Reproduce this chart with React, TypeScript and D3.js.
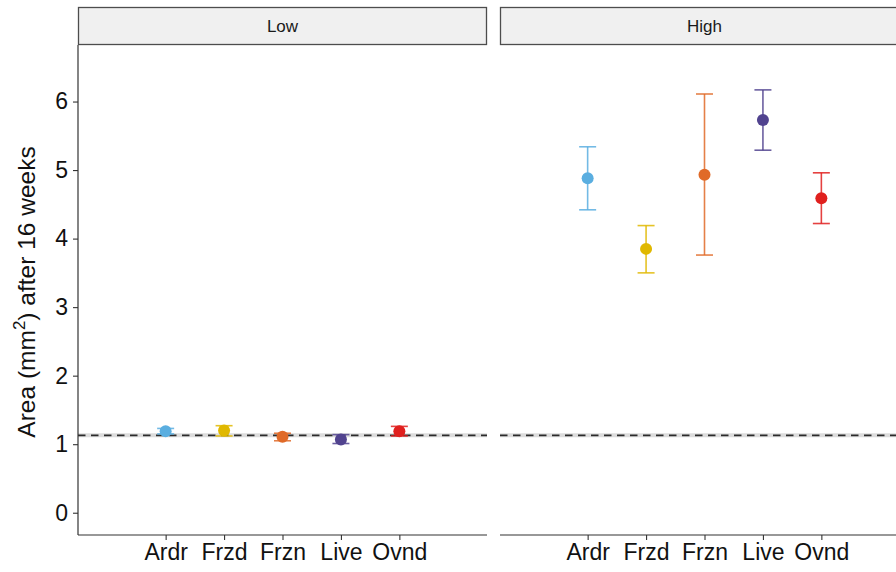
import React, { useEffect, useRef } from "react";
import * as d3 from "d3";

// treatments on the x axis
const categories = ["Ardr", "Frzd", "Frzn", "Live", "Ovnd"];
const colours = ["#5aaee0", "#e0b800", "#e06a28", "#51438f", "#e0201e"];

// panels
const panels = ["Low", "High"];

// mean and interval for each treatment, Low panel
const lowMean = [1.19, 1.2, 1.11, 1.07, 1.19];
const lowLower = [1.15, 1.12, 1.05, 1.01, 1.12];
const lowUpper = [1.23, 1.27, 1.16, 1.14, 1.26];

// High panel
const highMean = [4.88, 3.85, 4.93, 5.73, 4.59];
const highLower = [4.42, 3.5, 3.76, 5.29, 4.22];
const highUpper = [5.34, 4.19, 6.11, 6.17, 4.96];

const baseline = 1.13;
const yTicks = [0, 1, 2, 3, 4, 5, 6];

export default function App() {
	const ref = useRef<SVGSVGElement>(null);

	useEffect(() => {
		const svg = d3.select(ref.current);
		svg.selectAll("*").remove();

		const font = "'Liberation Sans', Arial, sans-serif";
		const top = 45,
			bottom = 535;
		const panelX = [
			[78, 487],
			[500, 909],
		];

		const y = d3.scaleLinear().domain([-0.325, 6.825]).range([bottom, top]);

		const panelData = [
			{ mean: lowMean, lo: lowLower, hi: lowUpper },
			{ mean: highMean, lo: highLower, hi: highUpper },
		];

		panels.forEach(function (name, p) {
			const [x0, x1] = panelX[p];
			const x = d3.scalePoint().domain(categories).range([x0, x1]).padding(1.5);
			const g = svg.append("g");

			// strip
			g.append("rect")
				.attr("x", x0 + 0.5)
				.attr("y", 7.5)
				.attr("width", x1 - x0 - 1)
				.attr("height", top - 8)
				.attr("fill", "#f0f0f0")
				.attr("stroke", "#4d4d4d")
				.attr("stroke-width", 1.3);
			g.append("text")
				.attr("x", (x0 + x1) / 2)
				.attr("y", 26)
				.attr("dy", "0.35em")
				.attr("text-anchor", "middle")
				.attr("font-family", font)
				.attr("font-size", 17)
				.attr("fill", "#1a1a1a")
				.text(name);

			// reference line with grey band
			g.append("line")
				.attr("x1", x0)
				.attr("x2", x1)
				.attr("y1", y(baseline))
				.attr("y2", y(baseline))
				.attr("stroke", "#dcdcdc")
				.attr("stroke-width", 4);
			g.append("line")
				.attr("x1", x0)
				.attr("x2", x1)
				.attr("y1", y(baseline))
				.attr("y2", y(baseline))
				.attr("stroke", "#2b2b2b")
				.attr("stroke-width", 1.8)
				.attr("stroke-dasharray", "7.5,5.5");

			// x axis
			const xAxis = g
				.append("g")
				.attr("transform", "translate(0," + bottom + ")")
				.call(d3.axisBottom(x).tickSize(5).tickSizeOuter(0).tickPadding(4));
			xAxis.select(".domain").attr("stroke", "#333").attr("stroke-width", 1.2).attr("d", "M" + x0 + ",0H" + x1);
			xAxis.selectAll(".tick line").attr("stroke", "#333").attr("stroke-width", 1.1);
			xAxis.selectAll(".tick text").attr("font-family", font).attr("font-size", 23).attr("fill", "#111");

			// y axis only on first panel
			if (p === 0) {
				const yAxis = g
					.append("g")
					.attr("transform", "translate(" + x0 + ",0)")
					.call(d3.axisLeft(y).tickValues(yTicks).tickFormat(d3.format("d")).tickSize(5).tickSizeOuter(0).tickPadding(5));
				yAxis.select(".domain").attr("stroke", "#333").attr("stroke-width", 1.2).attr("d", "M0," + top + "V" + bottom);
				yAxis.selectAll(".tick line").attr("stroke", "#333").attr("stroke-width", 1.1);
				yAxis.selectAll(".tick text").attr("font-family", font).attr("font-size", 23).attr("fill", "#111");
			}

			// error bars and points
			const d = panelData[p];
			const rows = categories.map(function (c, i) {
				return { c: c, mean: d.mean[i], lo: d.lo[i], hi: d.hi[i], col: colours[i] };
			});
			const bar = g.selectAll("g.bar").data(rows).enter().append("g").attr("class", "bar");
			bar.append("line")
				.attr("x1", (r) => x(r.c)!)
				.attr("x2", (r) => x(r.c)!)
				.attr("y1", (r) => y(r.lo))
				.attr("y2", (r) => y(r.hi))
				.attr("stroke", (r) => r.col)
				.attr("stroke-opacity", 0.85)
				.attr("stroke-width", 1.6);
			["lo", "hi"].forEach(function (k) {
				bar.append("line")
					.attr("x1", (r) => x(r.c)! - 8.5)
					.attr("x2", (r) => x(r.c)! + 8.5)
					.attr("y1", (r: any) => y(r[k]))
					.attr("y2", (r: any) => y(r[k]))
					.attr("stroke", (r) => r.col)
					.attr("stroke-opacity", 0.85)
					.attr("stroke-width", 1.6);
			});
			bar.append("circle")
				.attr("cx", (r) => x(r.c)!)
				.attr("cy", (r) => y(r.mean))
				.attr("r", 6)
				.attr("fill", (r) => r.col);
		});

		// y axis title
		const title = svg
			.append("text")
			.attr("transform", "translate(35," + ((top + bottom) / 2 + 2) + ") rotate(-90)")
			.attr("text-anchor", "middle")
			.attr("font-family", font)
			.attr("font-size", 24.5)
			.attr("fill", "#111");
		title.append("tspan").text("Area (mm");
		title.append("tspan").attr("font-size", 17).attr("dy", -10).text("2");
		title.append("tspan").attr("dy", 10).text(") after 16 weeks");
	}, []);

	return (
		<div style={{ position: "fixed", left: 0, top: 0 }}>
			<svg ref={ref} width={896} height={572} style={{ display: "block", background: "#fff" }} />
		</div>
	);
}
